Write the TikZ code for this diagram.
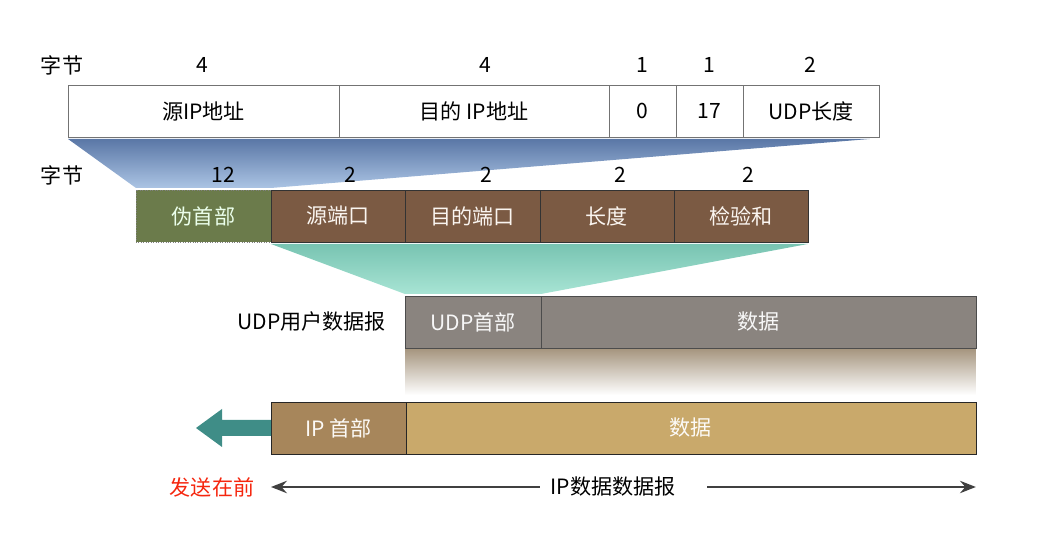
\documentclass[tikz,border=0pt]{standalone}
\usepackage{fontspec}
\setmainfont{Noto Sans CJK SC}
\usetikzlibrary{positioning,arrows.meta,backgrounds}
\definecolor{pseudo}{HTML}{6B7B4B}
\definecolor{udpbrown}{HTML}{7B5A43}
\definecolor{udpgray}{HTML}{8A847F}
\definecolor{iphead}{HTML}{A7865B}
\definecolor{ipbody}{HTML}{C9A96B}
\definecolor{fwdteal}{HTML}{3F8D87}
\definecolor{sendred}{HTML}{F5260E}
\definecolor{linegray}{HTML}{404040}
\definecolor{funnelblueA}{HTML}{5A77A6}
\definecolor{funnelblueB}{HTML}{ABC4E4}
\definecolor{funneltealA}{HTML}{78C4B2}
\definecolor{funneltealB}{HTML}{A8E4D4}
\definecolor{funnelbrown}{HTML}{A89882}

\begin{document}
\begin{tikzpicture}[x=0.02cm, y=-0.02cm, font=\fontsize{12}{14}\selectfont,
  cell/.style={minimum height=1.04cm, inner sep=0pt, outer sep=0pt},
  ipcell/.style={cell, draw=gray!90!black, fill=white},
  udpcell/.style={cell, draw=black!80, fill=udpbrown, text=white!92!brown},
  dgcell/.style={cell, draw=black!70, fill=udpgray, text=white!94!gray},
  pkcell/.style={cell, draw=black!85, text=white!96!brown},
  span/.style={-{Stealth[length=9pt,width=7pt,inset=3pt]}, line width=1.6pt, linegray}]
  \useasboundingbox (0,0) rectangle (1049,540);

  % Pseudo header (top row)
  \node[ipcell, minimum width=5.42cm, anchor=north west] (srcip) at (68,85) {源IP地址};
  \node[ipcell, minimum width=5.40cm, right=0pt of srcip] (dstip) {目的 IP地址};
  \node[ipcell, minimum width=1.34cm, right=0pt of dstip] (zero) {0};
  \node[ipcell, minimum width=1.34cm, right=0pt of zero] (proto) {17};
  \node[ipcell, minimum width=2.74cm, right=0pt of proto] (udplen) {UDP长度};

  \node (bytesA) at (62,65) {字节};
  \node at (202,65) {4};
  \node at (485,65) {4};
  \node at (642,65) {1};
  \node at (709,65) {1};
  \node at (810,65) {2};

  % UDP header row
  \node[cell, draw=gray, densely dotted, fill=pseudo, text=white!92!green,
        minimum width=2.70cm, anchor=north west] (pseudohdr) at (136,190) {伪首部};
  \node[udpcell, minimum width=2.68cm, right=0pt of pseudohdr] (srcport) {源端口};
  \node[udpcell, minimum width=2.70cm, right=0pt of srcport] (dstport) {目的端口};
  \node[udpcell, minimum width=2.68cm, right=0pt of dstport] (length) {长度};
  \node[udpcell, minimum width=2.68cm, right=0pt of length] (checksum) {检验和};

  \node (bytesB) at (62,175) {字节};
  \node at (223,175) {12};
  \node at (350,175) {2};
  \node at (486,175) {2};
  \node at (620,175) {2};
  \node at (748,175) {2};

  % UDP datagram
  \node[dgcell, minimum width=2.72cm, anchor=north west] (udphdr) at (405,296) {UDP首部};
  \node[dgcell, minimum width=8.70cm, right=0pt of udphdr] (udpdata) {数据};
  \node[left=0.26cm of udphdr] (udpname) {UDP用户数据报};

  % IP datagram
  \node[pkcell, fill=iphead, minimum width=2.70cm, anchor=north west] (iphdr) at (271,402) {IP 首部};
  \node[pkcell, fill=ipbody, minimum width=11.40cm, right=0pt of iphdr] (ipdata) {数据};

  % Funnels
  \begin{scope}[on background layer]
    \shade[top color=funnelblueA, bottom color=funnelblueB]
      ([yshift=-0.04cm]srcip.south west) -- ([xshift=-0.2cm,yshift=-0.04cm]udplen.south east)
      -- ([yshift=0.04cm]pseudohdr.north east) -- ([yshift=0.04cm]pseudohdr.north west) -- cycle;
    \shade[top color=funneltealA, bottom color=funneltealB]
      ([yshift=-0.04cm]srcport.south west) -- ([yshift=-0.04cm]checksum.south east)
      -- ([yshift=0.04cm]udphdr.north east) -- ([yshift=0.04cm]udphdr.north west) -- cycle;
    \shade[top color=funnelbrown, bottom color=white]
      ([yshift=-0.04cm]udphdr.south west) rectangle ([yshift=-0.94cm]udpdata.south east);
  \end{scope}

  % Sending direction
  \fill[fwdteal] (iphdr.west) ++(0,-8) -- ++(-49,0) -- ++(0,-11) -- ++(-26,19)
    -- ++(26,19) -- ++(0,-11) -- ++(49,0) -- cycle;
  \node[text=sendred] (first) at (212,487) {发送在前};

  % IP datagram span
  \node[inner xsep=6pt] (ipname) at (613,487) {IP数据数据报};
  \draw[span] (ipname.west) -- (iphdr.south west |- ipname);
  \draw[span] ([xshift=12pt]ipname.east) -- (ipdata.south east |- ipname);
\end{tikzpicture}
\end{document}
